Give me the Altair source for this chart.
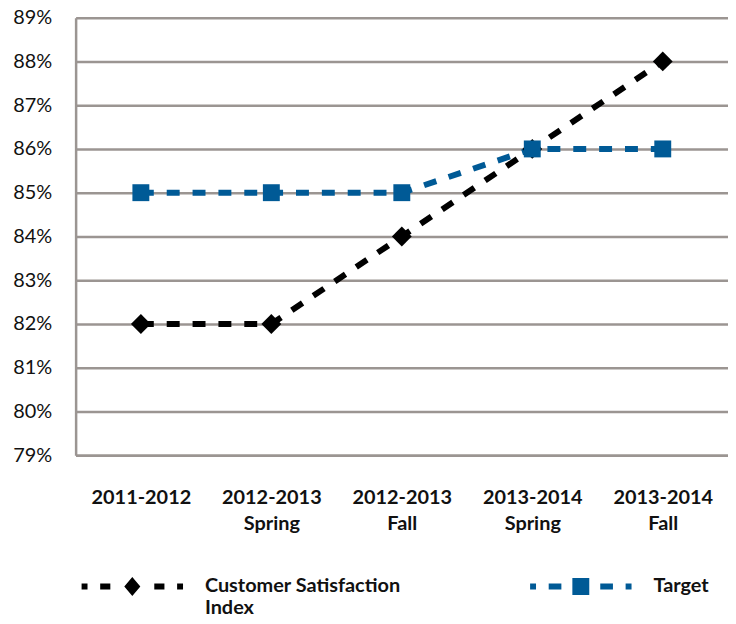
import altair as alt
import pandas as pd

categories = ["2011-2012", "2012-2013 Spring", "2012-2013 Fall", "2013-2014 Spring", "2013-2014 Fall"]
csi = [0.82, 0.82, 0.84, 0.86, 0.88]
target = [0.85, 0.85, 0.85, 0.86, 0.86]
series = ["Customer Satisfaction Index", "Target"]
colors = ["#000000", "#005a96"]

rows = []
for c, v in zip(categories, csi):
    rows.append({"cat": c, "val": v, "series": series[0]})
for c, v in zip(categories, target):
    rows.append({"cat": c, "val": v, "series": series[1]})
df = pd.DataFrame(rows)

FONT = "Lato"
GRID = "#9b9592"
TXT = "#111111"

CSI_PATH = ("M-6,-0.35H-5.3V0.35H-6Z M-3.8,-0.35H-2.6V0.35H-3.8Z M0,-1.12L0.95,0L0,1.12L-0.95,0Z "
            "M2.6,-0.35H3.8V0.35H2.6Z M5.3,-0.35H6V0.35H5.3Z")
TGT_PATH = ("M-6,-0.35H-5.3V0.35H-6Z M-3.8,-0.35H-2.3V0.35H-3.8Z M-1,-1H1V1H-1Z "
            "M2.3,-0.35H3.8V0.35H2.3Z M5.3,-0.35H6V0.35H5.3Z")

x = alt.X("cat:N", sort=categories, scale=alt.Scale(type="point", padding=0.5),
          axis=alt.Axis(title=None, labelAngle=0, labelExpr="split(datum.label, ' ')",
                        labelFont=FONT, labelFontSize=20, labelFontWeight="bold", labelColor=TXT,
                        labelPadding=43, labelLineHeight=26, ticks=False, domainColor=GRID,
                        domainWidth=2.5, labelBaseline="middle"))
y = alt.Y("val:Q", scale=alt.Scale(domain=[0.79, 0.89], nice=False, zero=False),
          axis=alt.Axis(title=None, format=".0%", values=[0.79 + i * 0.01 for i in range(11)],
                        labelFont=FONT, labelFontSize=20, labelColor=TXT, labelPadding=24,
                        ticks=False, grid=True, gridColor=GRID, gridWidth=2.5,
                        domainColor=GRID, domainWidth=2.5))
color_scale = alt.Scale(domain=series, range=colors)

lines = alt.Chart(df).mark_line(strokeWidth=6, strokeDash=[13, 13]).encode(
    x=x, y=y,
    color=alt.Color("series:N", scale=color_scale, sort=series,
                    legend=alt.Legend(
                        title=None, orient="none", legendX=47, legendY=562, columns=2,
                        columnPadding=130, padding=0, symbolSize=289, symbolStrokeWidth=0,
                        symbolType={"expr": f"datum.value == 'Target' ? '{TGT_PATH}' : '{CSI_PATH}'"},
                        symbolFillColor={"expr": f"datum.value == 'Target' ? '{colors[1]}' : '{colors[0]}'"},
                        symbolOpacity=1,
                        labelOffset=63, labelFont=FONT, labelFontSize=20, labelFontWeight="bold",
                        labelColor=TXT, labelBaseline="middle", labelLimit=400,
                        labelExpr="indexof(datum.label, ' Index') > 0 ? [replace(datum.label, ' Index', ''), 'Index'] : [datum.label, ' ']",
                    )),
    detail="series:N",
)

points = alt.Chart(df).mark_point(filled=True, opacity=1).encode(
    x=x, y=y,
    color=alt.Color("series:N", scale=color_scale, legend=None),
    shape=alt.Shape("series:N", scale=alt.Scale(domain=series, range=["diamond", "square"]), legend=None),
    size=alt.Size("series:N", scale=alt.Scale(domain=series, range=[400, 289]), legend=None),
)

chart = alt.layer(lines, points).resolve_legend(color="independent").properties(
    width=656, height=440,
    autosize=alt.AutoSizeParams(type="none"),
    padding={"left": 68, "top": 8, "right": 0, "bottom": 168},
).configure_view(stroke=None).configure(font=FONT)

chart.save("out.html", embed_options={"renderer": "svg", "actions": False})
